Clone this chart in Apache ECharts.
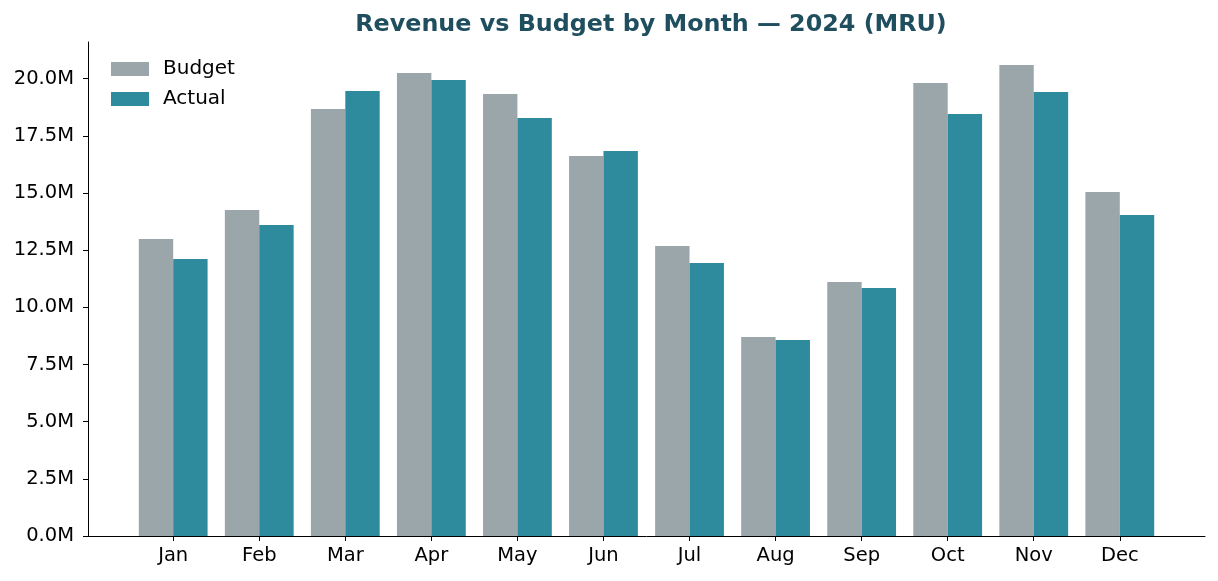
<!DOCTYPE html>
<html>
<head>
<meta charset="utf-8">
<title>Revenue vs Budget by Month — 2024 (MRU)</title>
<script src="https://cdn.jsdelivr.net/npm/echarts@6/dist/echarts.min.js"></script>
<style>
  html, body { margin: 0; padding: 0; background: #fff; }
  #chart { width: 1218px; height: 581px; }
</style>
</head>
<body>
<div id="chart"></div>
<script>
const months = ['Jan', 'Feb', 'Mar', 'Apr', 'May', 'Jun', 'Jul', 'Aug', 'Sep', 'Oct', 'Nov', 'Dec']
// values in millions of MRU
const budget = [12.99, 14.25, 18.67, 20.24, 19.33, 16.62, 12.68, 8.70, 11.11, 19.81, 20.59, 15.04]
const actual = [12.11, 13.60, 19.46, 19.94, 18.28, 16.83, 11.94, 8.57, 10.84, 18.45, 19.41, 14.04]
const yTicks = [0, 2.5, 5, 7.5, 10, 12.5, 15, 17.5, 20]

const chart = echarts.init(document.getElementById('chart'))
const font = 'DejaVu Sans'
const positions = months.map((_, i) => i)

const option = {
  animation: false,
  textStyle: { fontFamily: font },
  title: {
    text: 'Revenue vs Budget by Month — 2024 (MRU)',
    left: 646,
    textAlign: 'center',
    top: 8,
    textStyle: { fontFamily: font, fontSize: 23.8, fontWeight: 'bold', color: '#1f4e5f' }
  },
  legend: {
    orient: 'vertical',
    left: 106,
    top: 54,
    icon: 'rect',
    itemWidth: 38,
    itemHeight: 14,
    itemGap: 10,
    textStyle: { fontFamily: font, fontSize: 20, color: '#000', padding: [0, 0, 0, 9] },
    data: ['Budget', 'Actual']
  },
  grid: { left: 88, right: 13, top: 42, bottom: 45 },
  xAxis: {
    type: 'value',
    min: -0.99,
    max: 11.99,
    axisLine: { onZero: false, lineStyle: { color: '#000', width: 1 } },
    axisTick: { show: true, length: 5, customValues: positions, lineStyle: { color: '#000' } },
    axisLabel: {
      customValues: positions,
      formatter: v => months[Math.round(v)],
      fontFamily: font,
      fontSize: 19.5,
      color: '#000',
      margin: 10
    },
    splitLine: { show: false }
  },
  yAxis: {
    type: 'value',
    min: 0,
    max: 21.6,
    axisLine: { show: true, onZero: false, lineStyle: { color: '#000', width: 1 } },
    axisTick: { show: true, length: 5, customValues: yTicks, lineStyle: { color: '#000' } },
    axisLabel: {
      customValues: yTicks,
      formatter: v => v.toFixed(1) + 'M',
      fontFamily: font,
      fontSize: 19.5,
      color: '#000',
      margin: 14
    },
    splitLine: { show: false }
  },
  series: [
    {
      name: 'Budget',
      type: 'bar',
      barWidth: 34.4,
      barGap: '0%',
      itemStyle: { color: '#9ba6ab' },
      data: budget.map((v, i) => [i, v])
    },
    {
      name: 'Actual',
      type: 'bar',
      barWidth: 34.4,
      barGap: '0%',
      itemStyle: { color: '#2e8b9e' },
      data: actual.map((v, i) => [i, v])
    }
  ]
}

chart.setOption(option)
</script>
</body>
</html>
